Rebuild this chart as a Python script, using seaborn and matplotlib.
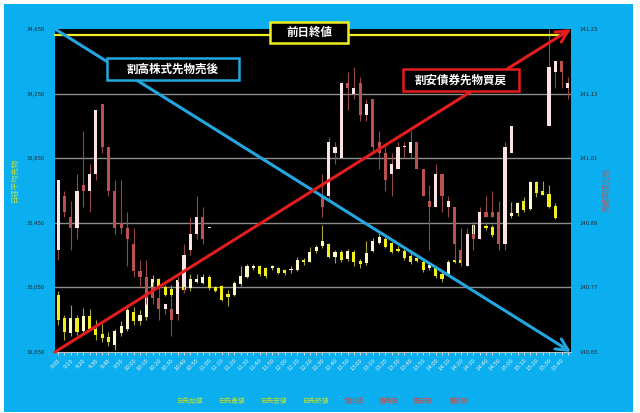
import numpy as np
import matplotlib
matplotlib.use("Agg")
import matplotlib.pyplot as plt
import seaborn as sns
from matplotlib.patches import Rectangle
from matplotlib.ticker import FuncFormatter

nan = np.nan

TIMES = ("9:00 9:05 9:10 9:15 9:20 9:25 9:30 9:35 9:40 9:45 9:50 9:55 "
         "10:00 10:05 10:10 10:15 10:20 10:25 10:30 10:35 10:40 10:45 10:50 10:55 "
         "11:00 11:05 11:10 11:15 11:20 11:25 11:30 11:35 11:40 11:45 11:50 11:55 "
         "12:00 12:05 12:10 12:15 12:20 12:25 12:30 12:35 12:40 12:45 12:50 12:55 "
         "13:00 13:05 13:10 13:15 13:20 13:25 13:30 13:35 13:40 13:45 13:50 13:55 "
         "14:00 14:05 14:10 14:15 14:20 14:25 14:30 14:35 14:40 14:45 14:50 14:55 "
         "15:00 15:05 15:10 15:15 15:20 15:25 15:30 15:35 15:40 15:45").split()

# Nikkei 225 futures (left axis)
NK_OPEN = [33000, 32860, 32765, 32860, 32780, 32870, 32790, 32760, 32740, 32695,
           32765, 32795, 32900, 32845, 32865, 33035, 33100, 33055, 33040, 33045,
           33050, 33045, 33085, 33080, 33115, 33050, 33060, 33010, 33005, 33070,
           33115, 33170, 33180, 33170, 33170, 33170, 33155, 33155, 33160, 33220,
           33210, 33275, 33305, 33320, 33240, 33270, 33225, 33270, 33215, 33200,
           33275, 33325, 33350, 33325, 33290, 33275, 33245, 33230, 33210, 33170,
           33175, 33135, 33135, 33220, 33220, 33230, 33380, 33435, 33430, 33425,
           33375, 33430, 33490, 33510, 33585, 33535, 33705, 33645, 33630, 33555,
           nan, 33520]
NK_HIGH = [33030, 32880, 32940, 32880, 32920, 32915, 32850, 32825, 32775, 32795,
           32840, 32920, 32930, 32910, 33090, 33125, 33110, 33065, 33065, 33115,
           33070, 33135, 33135, 33135, 33125, 33060, 33065, 33035, 33090, 33180,
           33195, 33195, 33190, 33175, 33190, 33175, 33165, 33185, 33240, 33230,
           33300, 33310, 33435, 33325, 33280, 33280, 33290, 33280, 33225, 33335,
           33355, 33385, 33365, 33330, 33305, 33290, 33265, 33240, 33220, 33200,
           33185, 33145, 33220, 33230, 33230, 33385, 33455, 33450, 33445, 33435,
           33440, 33495, 33580, 33580, 33610, 33710, 33710, 33710, 33685, 33575,
           nan, 33520]
NK_LOW = [32815, 32725, 32750, 32755, 32770, 32780, 32725, 32715, 32685, 32660,
          32750, 32780, 32815, 32815, 32850, 33020, 33035, 32995, 32990, 33030,
          33020, 33030, 33075, 33070, 33035, 33020, 32965, 32935, 32995, 33060,
          33110, 33160, 33120, 33110, 33160, 33135, 33125, 33140, 33150, 33190,
          33205, 33265, 33295, 33230, 33200, 33205, 33215, 33180, 33170, 33190,
          33270, 33320, 33295, 33265, 33270, 33220, 33195, 33205, 33145, 33160,
          33110, 33085, 33125, 33200, 33190, 33220, 33370, 33410, 33405, 33360,
          33370, 33425, 33480, 33495, 33515, 33530, 33610, 33620, 33540, 33475,
          nan, 33520]
NK_CLOSE = [32850, 32775, 32860, 32775, 32870, 32795, 32755, 32735, 32710, 32780,
            32810, 32910, 32845, 32880, 33045, 33100, 33055, 33005, 33005, 33095,
            33035, 33100, 33100, 33115, 33045, 33030, 32975, 32990, 33080, 33120,
            33180, 33185, 33135, 33120, 33185, 33140, 33140, 33160, 33220, 33210,
            33270, 33300, 33335, 33240, 33270, 33220, 33275, 33210, 33195, 33265,
            33340, 33365, 33300, 33270, 33275, 33230, 33205, 33215, 33160, 33190,
            33120, 33105, 33210, 33210, 33200, 33380, 33435, 33430, 33415, 33375,
            33430, 33490, 33510, 33570, 33530, 33700, 33635, 33625, 33545, 33480,
            nan, 33520]

# JGB futures (right axis)
JB_OPEN = [140.84, 140.94, 140.90, 140.88, 140.96, 140.95, 140.98, 141.11, 141.03, 140.95,
           140.89, 140.88, 140.85, 140.80, 140.79, 140.77, 140.75, 140.73, 140.73, 140.72,
           140.77, 140.84, 140.87, 140.90, 140.88] + [nan] * 17 + [
           140.94, 140.94, 141.02, 141.01, 141.15, 141.13, 141.15, 141.09, 141.12, 141.04,
           141.02, 140.98, 140.99, 141.03, 141.02, 141.04, 140.99, 140.93, 140.92, 140.98,
           140.92, 140.92, 140.84, 140.81, 140.87, 140.86, 140.91, 140.91, 140.91, 140.85,
           141.02, nan, nan, nan, nan, nan, 141.07, 141.17, 141.19, 141.14]
JB_HIGH = [140.97, 140.95, 140.93, 140.98, 141.06, 141.00, 141.10, 141.11, 141.03, 140.97,
           140.97, 140.91, 140.88, 140.82, 140.82, 140.78, 140.77, 140.74, 140.75, 140.79,
           140.85, 140.90, 140.94, 140.92, 140.88] + [nan] * 17 + [
           140.98, 141.05, 141.04, 141.15, 141.17, 141.18, 141.16, 141.12, 141.12, 141.06,
           141.03, 141.02, 141.04, 141.04, 141.06, 141.04, 140.99, 140.96, 141.00, 140.98,
           140.94, 140.92, 140.88, 140.88, 140.89, 140.92, 140.94, 140.95, 140.93, 141.04,
           141.07, nan, nan, nan, nan, nan, 141.25, 141.19, 141.19, 141.16]
JB_LOW = [140.82, 140.90, 140.84, 140.86, 140.92, 140.91, 140.97, 141.02, 140.94, 140.87,
          140.87, 140.81, 140.79, 140.77, 140.74, 140.74, 140.71, 140.72, 140.68, 140.71,
          140.76, 140.83, 140.86, 140.85, 140.88] + [nan] * 17 + [
          140.90, 140.93, 141.00, 141.01, 141.10, 141.12, 141.08, 141.08, 141.02, 140.99,
          140.95, 140.94, 140.99, 141.01, 141.01, 140.99, 140.94, 140.84, 140.92, 140.91,
          140.90, 140.82, 140.81, 140.81, 140.84, 140.86, 140.90, 140.90, 140.84, 140.84,
          141.02, nan, nan, nan, nan, nan, 141.07, 141.14, 141.14, 141.12]
JB_CLOSE = [140.97, 140.91, 140.88, 140.95, 140.95, 140.98, 141.10, 141.03, 140.95, 140.88,
            140.88, 140.86, 140.80, 140.79, 140.75, 140.75, 140.73, 140.74, 140.71, 140.78,
            140.83, 140.87, 140.90, 140.86, 140.88] + [nan] * 17 + [
            140.92, 141.04, 141.03, 141.15, 141.14, 141.14, 141.09, 141.11, 141.03, 141.02,
            140.97, 141.00, 141.03, 141.03, 141.04, 140.99, 140.94, 140.92, 140.98, 140.94,
            140.93, 140.85, 140.82, 140.87, 140.86, 140.91, 140.90, 140.90, 140.85, 141.03,
            141.07, nan, nan, nan, nan, nan, 141.18, 141.19, 141.17, 141.15]

NK_TICKS = [32650, 33050, 33450, 33850, 34250, 34650]
JB_TICKS = [140.65, 140.77, 140.89, 141.01, 141.13, 141.25]
LEGEND_NK = ["日先始値", "日先高値", "日先安値", "日先終値"]
LEGEND_JB = ["債始値", "債高値", "債安値", "債終値"]

sns.set_theme(style="white")
plt.rcParams["font.family"] = ["Noto Sans CJK JP", "DejaVu Sans"]

W, H = 640, 413
fig = plt.figure(figsize=(6.4, 4.13), dpi=100, facecolor="white")
SKY = "#0BAFEF"
fig.patches.append(Rectangle((4 / W, 1 - 411.5 / H), (633 - 4) / W, (411.5 - 4) / H,
                             transform=fig.transFigure, facecolor=SKY, edgecolor="none", zorder=-10))

ax = fig.add_axes([55 / W, 1 - 352 / H, (571 - 55) / W, (352 - 29) / H])
ax.set_facecolor("black")
ax2 = ax.twinx()

x = np.arange(len(TIMES))


def candles(axis, o, h, l, c, up_col, dn_col, wick_col, min_h, width):
    o = np.array(o, float); h = np.array(h, float); l = np.array(l, float); c = np.array(c, float)
    ok = ~np.isnan(o)
    xs = x[ok]
    o, h, l, c = o[ok], h[ok], l[ok], c[ok]
    axis.vlines(xs, l, h, color=wick_col, lw=0.8, zorder=2)
    bottom = np.minimum(o, c)
    height = np.maximum(np.abs(c - o), min_h)
    cols = [up_col if cc >= oo else dn_col for oo, cc in zip(o, c)]
    axis.bar(xs, height, bottom=bottom, width=width, color=cols, edgecolor="none", zorder=3)


candles(ax, NK_OPEN, NK_HIGH, NK_LOW, NK_CLOSE, "#FFFBC8", "#F2EE1C", "#A8A33C", 6, 0.5)
candles(ax2, JB_OPEN, JB_HIGH, JB_LOW, JB_CLOSE, "#FBE3E3", "#B9524F", "#944846", 0.0018, 0.5)

ax.set_xlim(-0.5, len(TIMES) - 0.5)
ax.set_ylim(NK_TICKS[0], NK_TICKS[-1])
ax2.set_ylim(JB_TICKS[0], JB_TICKS[-1])
ax.set_yticks(NK_TICKS)
ax.yaxis.set_major_formatter(FuncFormatter(lambda v, p: f"{v:,.0f}"))
ax2.set_yticks(JB_TICKS)
ax2.yaxis.set_major_formatter(FuncFormatter(lambda v, p: f"{v:.2f}"))

ax.set_axisbelow(True)
ax.grid(False)
ax2.grid(False)
for v in NK_TICKS[1:-1]:
    ax.axhline(v, color="#8C8C8C", lw=1.0, zorder=1)

ax.set_xticks(x)
ax.set_xticklabels([t if i % 2 == 0 else "" for i, t in enumerate(TIMES)],
                   rotation=45, ha="right", rotation_mode="anchor")
ax.tick_params(axis="x", colors="#E8E8E8", labelsize=4.3, length=2, width=0.6, pad=2,
               direction="out", bottom=True)
ax.tick_params(axis="y", colors="#2A2A2A", labelsize=4.3, length=0, pad=7)
ax2.tick_params(axis="y", colors="#2A2A2A", labelsize=4.3, length=0, pad=6)
for lab in ax.get_xticklabels():
    lab.set_color("#EDEDED")

for a in (ax, ax2):
    for s in ("left", "right", "top"):
        a.spines[s].set_visible(False)
    a.spines["bottom"].set_visible(False)
ax.spines["bottom"].set_visible(True)
ax.spines["bottom"].set_color("#BFBFBF")
ax.spines["bottom"].set_linewidth(0.8)

BLUE = "#22A7E0"
RED = "#E31D1D"
YEL = "#EEEE22"

ax2.plot([0, 0.982], [0.981, 0.981], transform=ax2.transAxes, color=YEL, lw=1.6,
         zorder=8, clip_on=False)
ax2.annotate("", xy=(1.0, 0.0), xytext=(0.0, 1.0), xycoords="axes fraction",
             textcoords="axes fraction", zorder=9,
             arrowprops=dict(arrowstyle="->,head_length=0.7,head_width=0.35", color=BLUE,
                             lw=2.2, shrinkA=0, shrinkB=0))
ax2.annotate("", xy=(1.0, 1.0), xytext=(0.0, 0.0), xycoords="axes fraction",
             textcoords="axes fraction", zorder=9,
             arrowprops=dict(arrowstyle="->,head_length=0.7,head_width=0.35", color=RED,
                             lw=2.2, shrinkA=0, shrinkB=0))


def box(x0, y0, x1, y1, ec, text):
    fig.patches.append(Rectangle((x0 / W, 1 - y1 / H), (x1 - x0) / W, (y1 - y0) / H,
                                 transform=fig.transFigure, facecolor="black",
                                 edgecolor=ec, lw=1.8, zorder=10))
    fig.text((x0 + x1) / 2 / W, 1 - (y0 + y1) / 2 / H, text, color="white", fontsize=8.3,
             fontweight="bold", ha="center", va="center", zorder=11)


box(270, 22, 348, 43, YEL, "前日終値")
box(107, 58, 239, 80, BLUE, "割高株式先物売後")
box(403, 69, 519, 91, RED, "割安債券先物買戻")

NK_COL = "#C3E02A"
JB_COL = "#C4524F"
for lab, cx in zip(LEGEND_NK, [190, 232, 274, 316]):
    fig.text(cx / W, 1 - 401 / H, lab, color=NK_COL, fontsize=4.8, ha="center", va="center")
for lab, cx in zip(LEGEND_JB, [354, 389, 423, 459]):
    fig.text(cx / W, 1 - 401 / H, lab, color=JB_COL, fontsize=4.8, ha="center", va="center")

fig.text(15 / W, 1 - 180 / H, "日経平均先物", rotation=90, color=NK_COL, fontsize=5.3,
         ha="center", va="center")
fig.text(606 / W, 1 - 190 / H, "長期国債先物", rotation=90, color=JB_COL, fontsize=5.3,
         ha="center", va="center", alpha=0.85)

fig.savefig("out.png", dpi=100, facecolor="white")
